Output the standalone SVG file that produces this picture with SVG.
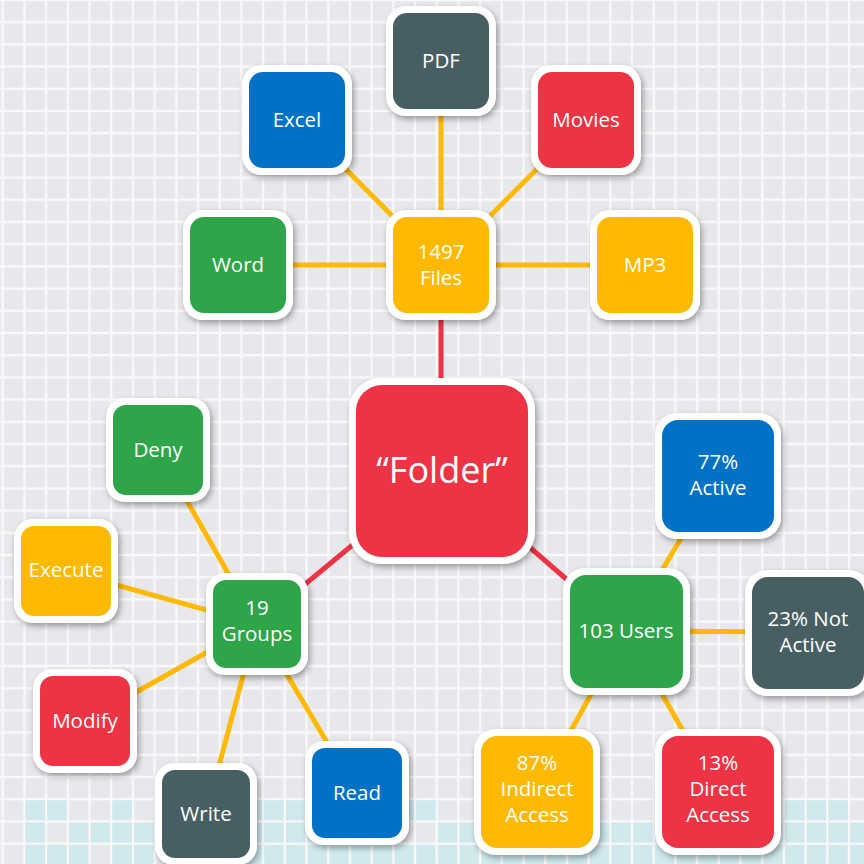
<svg xmlns="http://www.w3.org/2000/svg" width="864" height="864" viewBox="0 0 864 864">
<defs>
<pattern id="grid" patternUnits="userSpaceOnUse" x="2.7" y="0" width="21.7" height="22.2">
<rect width="21.7" height="22.2" fill="#f9f9fa"/>
<rect x="1.2" y="1.2" width="19.3" height="19.8" fill="#e7e8eb"/>
</pattern>
<pattern id="cgrid" patternUnits="userSpaceOnUse" x="2.7" y="0" width="21.7" height="22.2">
<rect width="21.7" height="22.2" fill="#f9f9fa"/>
<rect x="1.2" y="1.2" width="19.3" height="19.8" fill="#cfe9ed"/>
</pattern>
<filter id="sh" x="-20%" y="-20%" width="140%" height="140%">
<feDropShadow dx="2" dy="3" stdDeviation="3" flood-color="#000" flood-opacity="0.35"/>
</filter>
</defs>
<style>
.w{fill:#ffffff;filter:url(#sh)}
.red{fill:#EE3344}.grn{fill:#2EA548}.blu{fill:#0072C6}.yel{fill:#FFB900}.drk{fill:#475F63}
.t{font-family:"Open Sans","Noto Sans",sans-serif;font-size:20.5px;fill:#ffffff;text-anchor:middle}
.big{font-size:36px}
.ly{stroke:#FFB900;stroke-width:5;fill:none}
.lr{stroke:#EE3344;stroke-width:5;fill:none}
.cy{fill:#cfe9ed}
</style>
<rect width="864" height="864" fill="url(#grid)"/>
<g id="cyan-cells">
<rect class="cy" x="25.6" y="800.4" width="19.3" height="19.8"/>
<rect class="cy" x="47.3" y="800.4" width="19.3" height="19.8"/>
<rect class="cy" x="112.4" y="800.4" width="19.3" height="19.8"/>
<rect class="cy" x="242.6" y="800.4" width="19.3" height="19.8"/>
<rect class="cy" x="264.3" y="800.4" width="19.3" height="19.8"/>
<rect class="cy" x="286.0" y="800.4" width="19.3" height="19.8"/>
<rect class="cy" x="394.5" y="800.4" width="19.3" height="19.8"/>
<rect class="cy" x="416.2" y="800.4" width="19.3" height="19.8"/>
<rect class="cy" x="785.1" y="800.4" width="19.3" height="19.8"/>
<rect class="cy" x="806.8" y="800.4" width="19.3" height="19.8"/>
<rect class="cy" x="828.5" y="800.4" width="19.3" height="19.8"/>
<rect class="cy" x="25.6" y="822.6" width="19.3" height="19.8"/>
<rect class="cy" x="69.0" y="822.6" width="19.3" height="19.8"/>
<rect class="cy" x="90.7" y="822.6" width="19.3" height="19.8"/>
<rect class="cy" x="112.4" y="822.6" width="19.3" height="19.8"/>
<rect class="cy" x="134.1" y="822.6" width="19.3" height="19.8"/>
<rect class="cy" x="177.5" y="822.6" width="19.3" height="19.8"/>
<rect class="cy" x="220.9" y="822.6" width="19.3" height="19.8"/>
<rect class="cy" x="242.6" y="822.6" width="19.3" height="19.8"/>
<rect class="cy" x="264.3" y="822.6" width="19.3" height="19.8"/>
<rect class="cy" x="286.0" y="822.6" width="19.3" height="19.8"/>
<rect class="cy" x="307.7" y="822.6" width="19.3" height="19.8"/>
<rect class="cy" x="329.4" y="822.6" width="19.3" height="19.8"/>
<rect class="cy" x="351.1" y="822.6" width="19.3" height="19.8"/>
<rect class="cy" x="437.9" y="822.6" width="19.3" height="19.8"/>
<rect class="cy" x="459.6" y="822.6" width="19.3" height="19.8"/>
<rect class="cy" x="589.8" y="822.6" width="19.3" height="19.8"/>
<rect class="cy" x="611.5" y="822.6" width="19.3" height="19.8"/>
<rect class="cy" x="633.2" y="822.6" width="19.3" height="19.8"/>
<rect class="cy" x="654.9" y="822.6" width="19.3" height="19.8"/>
<rect class="cy" x="698.3" y="822.6" width="19.3" height="19.8"/>
<rect class="cy" x="720.0" y="822.6" width="19.3" height="19.8"/>
<rect class="cy" x="741.7" y="822.6" width="19.3" height="19.8"/>
<rect class="cy" x="763.4" y="822.6" width="19.3" height="19.8"/>
<rect class="cy" x="785.1" y="822.6" width="19.3" height="19.8"/>
<rect class="cy" x="806.8" y="822.6" width="19.3" height="19.8"/>
<rect class="cy" x="828.5" y="822.6" width="19.3" height="19.8"/>
<rect class="cy" x="850.2" y="822.6" width="19.3" height="19.8"/>
<rect class="cy" x="25.6" y="844.8" width="19.3" height="19.8"/>
<rect class="cy" x="47.3" y="844.8" width="19.3" height="19.8"/>
<rect class="cy" x="69.0" y="844.8" width="19.3" height="19.8"/>
<rect class="cy" x="112.4" y="844.8" width="19.3" height="19.8"/>
<rect class="cy" x="134.1" y="844.8" width="19.3" height="19.8"/>
<rect x="198" y="843.6" width="666" height="21" fill="url(#cgrid)"/>
</g>
<g id="connectors">
<line class="ly" x1="441" y1="61" x2="441" y2="265"/>
<line class="ly" x1="297" y1="120" x2="441" y2="265"/>
<line class="ly" x1="586" y1="120" x2="441" y2="265"/>
<line class="ly" x1="238" y1="265" x2="441" y2="265"/>
<line class="ly" x1="645" y1="265" x2="441" y2="265"/>
<line class="lr" x1="441" y1="265" x2="441" y2="471"/>
<line class="lr" x1="442" y1="471" x2="257" y2="624"/>
<line class="lr" x1="442" y1="471" x2="626" y2="631"/>
<line class="ly" x1="158" y1="450" x2="257" y2="624"/>
<line class="ly" x1="66" y1="571" x2="257" y2="624"/>
<line class="ly" x1="85" y1="721" x2="257" y2="624"/>
<line class="ly" x1="206" y1="814" x2="257" y2="624"/>
<line class="ly" x1="357" y1="793" x2="257" y2="624"/>
<line class="ly" x1="718" y1="476" x2="626" y2="631"/>
<line class="ly" x1="808" y1="632" x2="626" y2="631"/>
<line class="ly" x1="537" y1="792" x2="626" y2="631"/>
<line class="ly" x1="718" y1="792" x2="626" y2="631"/>
</g>
<g id="node-pdf"><rect class="w" x="386" y="6" width="110" height="110" rx="20"/><rect class="drk" x="393" y="13" width="96" height="96" rx="14"/><text class="t" x="441" y="68">PDF</text></g>
<g id="node-excel"><rect class="w" x="242" y="65" width="110" height="110" rx="20"/><rect class="blu" x="249" y="72" width="96" height="96" rx="14"/><text class="t" x="297" y="127">Excel</text></g>
<g id="node-movies"><rect class="w" x="531" y="65" width="110" height="110" rx="20"/><rect class="red" x="538" y="72" width="96" height="96" rx="14"/><text class="t" x="586" y="127">Movies</text></g>
<g id="node-word"><rect class="w" x="183" y="210" width="110" height="110" rx="20"/><rect class="grn" x="190" y="217" width="96" height="96" rx="14"/><text class="t" x="238" y="272">Word</text></g>
<g id="node-files"><rect class="w" x="386" y="210" width="110" height="110" rx="20"/><rect class="yel" x="393" y="217" width="96" height="96" rx="14"/><text class="t" x="441" y="259">1497</text><text class="t" x="441" y="285">Files</text></g>
<g id="node-mp3"><rect class="w" x="590" y="210" width="110" height="110" rx="20"/><rect class="yel" x="597" y="217" width="96" height="96" rx="14"/><text class="t" x="645" y="272">MP3</text></g>
<g id="node-folder"><rect class="w" x="349" y="378" width="186" height="186" rx="32"/><rect class="red" x="356" y="385" width="172" height="172" rx="26"/><text class="t big" x="442" y="483">“Folder”</text></g>
<g id="node-active"><rect class="w" x="655" y="413" width="126" height="126" rx="22"/><rect class="blu" x="662" y="420" width="112" height="112" rx="16"/><text class="t" x="718" y="469">77%</text><text class="t" x="718" y="495">Active</text></g>
<g id="node-notactive"><rect class="w" x="745" y="570" width="126" height="126" rx="22"/><rect class="drk" x="752" y="577" width="112" height="112" rx="16"/><text class="t" x="808" y="626">23% Not</text><text class="t" x="808" y="652">Active</text></g>
<g id="node-users"><rect class="w" x="563" y="568" width="127" height="127" rx="22"/><rect class="grn" x="570" y="575" width="113" height="113" rx="16"/><text class="t" x="626" y="638">103 Users</text></g>
<g id="node-indirect"><rect class="w" x="474" y="729" width="126" height="126" rx="22"/><rect class="yel" x="481" y="736" width="112" height="112" rx="16"/><text class="t" x="537" y="770">87%</text><text class="t" x="537" y="796">Indirect</text><text class="t" x="537" y="822">Access</text></g>
<g id="node-direct"><rect class="w" x="655" y="729" width="126" height="126" rx="22"/><rect class="red" x="662" y="736" width="112" height="112" rx="16"/><text class="t" x="718" y="770">13%</text><text class="t" x="718" y="796">Direct</text><text class="t" x="718" y="822">Access</text></g>
<g id="node-groups"><rect class="w" x="206" y="573" width="102" height="102" rx="19"/><rect class="grn" x="213" y="580" width="88" height="88" rx="13"/><text class="t" x="257" y="615">19</text><text class="t" x="257" y="641">Groups</text></g>
<g id="node-deny"><rect class="w" x="106" y="398" width="104" height="104" rx="19"/><rect class="grn" x="113" y="405" width="90" height="90" rx="13"/><text class="t" x="158" y="457">Deny</text></g>
<g id="node-execute"><rect class="w" x="14" y="519" width="104" height="104" rx="19"/><rect class="yel" x="21" y="526" width="90" height="90" rx="13"/><text class="t" x="66" y="577">Execute</text></g>
<g id="node-modify"><rect class="w" x="33" y="669" width="104" height="104" rx="19"/><rect class="red" x="40" y="676" width="90" height="90" rx="13"/><text class="t" x="85" y="728">Modify</text></g>
<g id="node-write"><rect class="w" x="155" y="763" width="102" height="102" rx="19"/><rect class="drk" x="162" y="770" width="88" height="88" rx="13"/><text class="t" x="206" y="821">Write</text></g>
<g id="node-read"><rect class="w" x="305" y="741" width="104" height="104" rx="19"/><rect class="blu" x="312" y="748" width="90" height="90" rx="13"/><text class="t" x="357" y="800">Read</text></g>
</svg>
